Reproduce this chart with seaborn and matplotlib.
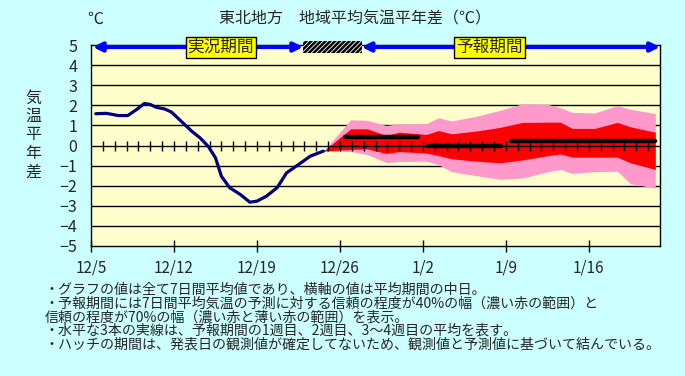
import numpy as np
import pandas as pd
import matplotlib
matplotlib.use("Agg")
import matplotlib.pyplot as plt
import seaborn as sns
from matplotlib.patches import Rectangle

# ---- data ----
tick_days = [0, 7, 14, 21, 28, 35, 42]
tick_labels = ['12/5', '12/12', '12/19', '12/26', '1/2', '1/9', '1/16']
day_ticks = list(range(1, 48))
y_ticks = [-5, -4, -3, -2, -1, 0, 1, 2, 3, 4, 5]

obs_day = [0.4, 1.3, 2.3, 3.1, 3.85, 4.5, 5.0, 5.5, 6.2, 6.8, 7.6, 8.5, 9.2, 9.9,
           10.5, 11.0, 11.7, 12.6, 13.4, 14.0, 14.8, 15.7, 16.5, 17.5, 18.5, 19.6]
obs_val = [1.58, 1.6, 1.49, 1.49, 1.79, 2.09, 2.04, 1.9, 1.82, 1.66, 1.21, 0.71, 0.38, -0.05,
           -0.61, -1.53, -2.1, -2.44, -2.82, -2.77, -2.52, -2.1, -1.36, -0.95, -0.53, -0.28]

fc_day = [19.6, 21.9, 23.3, 24.9, 26.0, 28.3, 29.3, 30.4, 32.5, 34.5, 36.4, 38.6, 39.6,
          40.6, 42.5, 44.4, 45.5, 47.6]
pink_upper = [-0.28, 1.28, 1.25, 1.0, 1.08, 1.09, 1.38, 1.22, 1.45, 1.75, 2.08, 2.04, 1.88,
              1.65, 1.62, 1.99, 1.8, 1.59]
red_upper = [-0.28, 0.83, 0.83, 0.5, 0.66, 0.55, 0.74, 0.58, 0.72, 0.9, 1.15, 1.16, 1.16,
             0.85, 0.85, 1.15, 0.93, 0.66]
red_lower = [-0.28, -0.2, -0.17, -0.4, -0.3, -0.38, -0.5, -0.66, -0.78, -0.86, -0.72, -0.5,
             -0.42, -0.58, -0.58, -0.58, -0.86, -1.19]
pink_lower = [-0.28, -0.3, -0.45, -0.85, -0.8, -0.78, -0.95, -1.3, -1.5, -1.68, -1.62, -1.3,
              -1.19, -1.39, -1.3, -1.28, -1.9, -2.12]

week_start = [21.4, 28.4, 35.4]
week_end = [27.6, 34.6, 47.6]
week_val = [0.42, 0.0, 0.22]

obs_period = [0.15, 17.9]
hatch_period = [17.9, 22.82]
fc_period = [22.82, 48.0]

title = '東北地方　地域平均気温平年差（℃）'
notes = [
    '・グラフの値は全て7日間平均値であり、横軸の値は平均期間の中日。',
    '・予報期間には7日間平均気温の予測に対する信頼の程度が40%の幅（濃い赤の範囲）と',
    '信頼の程度が70%の幅（濃い赤と薄い赤の範囲）を表示。',
    '・水平な3本の実線は、予報期間の1週目、2週目、3～4週目の平均を表す。',
    '・ハッチの期間は、発表日の観測値が確定してないため、観測値と予測値に基づいて結んでいる。',
]

# ---- style ----
sns.set_style("white")
plt.rcParams['font.family'] = ['Noto Sans CJK JP', 'DejaVu Sans']
plt.rcParams['hatch.linewidth'] = 1.8
plt.rcParams['axes.unicode_minus'] = True

W, H = 685, 376
fig = plt.figure(figsize=(W / 100, H / 100), dpi=100, facecolor='#CCFFFF')
ax = fig.add_axes([91 / W, 1 - 246 / H, (660 - 91) / W, (246 - 45) / H])
ax.set_facecolor('#FFFFCC')
ax.set_xlim(0, 48)
ax.set_ylim(-5, 5)

for v in y_ticks[1:-1]:
    if v != 0:
        ax.axhline(v, color='black', lw=1, zorder=1)

ax.fill_between(fc_day, pink_lower, pink_upper, color='#FF99CC', lw=0, zorder=2)
ax.fill_between(fc_day, red_lower, red_upper, color='#FF0000', lw=0, zorder=3)

ax.axhline(0, color='black', lw=1, zorder=4)
ax.plot(day_ticks, [0] * len(day_ticks), ls='none', marker='|', ms=6.5, mew=1,
        color='black', zorder=4)

df = pd.DataFrame({'day': obs_day, 'val': obs_val})
sns.lineplot(data=df, x='day', y='val', color='#000080', lw=2.3, ax=ax, zorder=5,
             sort=False)

for s, e, v in zip(week_start, week_end, week_val):
    ax.plot([s, e], [v, v], color='black', lw=3.2, solid_capstyle='round', zorder=6)

ax.set_xlabel('')
ax.set_ylabel('')
ax.set_xticks(tick_days)
ax.set_xticklabels(tick_labels)
ax.set_yticks(y_ticks)
ax.set_yticklabels([('−' + str(-t)) if t < 0 else str(t) for t in y_ticks])
ax.tick_params(axis='x', direction='inout', length=9, width=1, color='black',
               pad=5, labelsize=11, bottom=True)
ax.tick_params(axis='y', length=0, pad=10, labelsize=11.5)
for sp in ax.spines.values():
    sp.set_color('black')
    sp.set_linewidth(1)
    sp.set_visible(True)

# period arrows
arrow_y = 4.9
for (a, b) in [obs_period, fc_period]:
    ax.annotate('', xy=(a, arrow_y), xytext=(b, arrow_y),
                arrowprops=dict(arrowstyle='<|-|>', color='#0000FF', lw=3,
                                mutation_scale=13, shrinkA=0, shrinkB=0),
                annotation_clip=False, zorder=8)
ax.add_patch(Rectangle((hatch_period[0], 4.58), hatch_period[1] - hatch_period[0], 0.61,
                       facecolor='white', edgecolor='black', hatch='///////', lw=0,
                       clip_on=False, zorder=9))
box = dict(boxstyle='square,pad=0.12', fc='#FFFF00', ec='black', lw=1)
ax.text(10.96, arrow_y, '実況期間', ha='center', va='center', fontsize=12, bbox=box,
        zorder=10, clip_on=False)
ax.text(33.6, arrow_y, '予報期間', ha='center', va='center', fontsize=12, bbox=box,
        zorder=10, clip_on=False)

# texts
fig.text(355 / W, 1 - 19 / H, title, ha='center', va='center', fontsize=11.5)
fig.text(95 / W, 1 - 19 / H, '℃', ha='center', va='center', fontsize=11.5)
for i, ch in enumerate('気温平年差'):
    fig.text(33 / W, 1 - (98 + i * 18.5) / H, ch, ha='center', va='center', fontsize=11.5)
for i, line in enumerate(notes):
    fig.text(45 / W, 1 - (290 + i * 13.5) / H, line, ha='left', va='center', fontsize=10.1)

fig.savefig('out.png', dpi=100, facecolor=fig.get_facecolor())
